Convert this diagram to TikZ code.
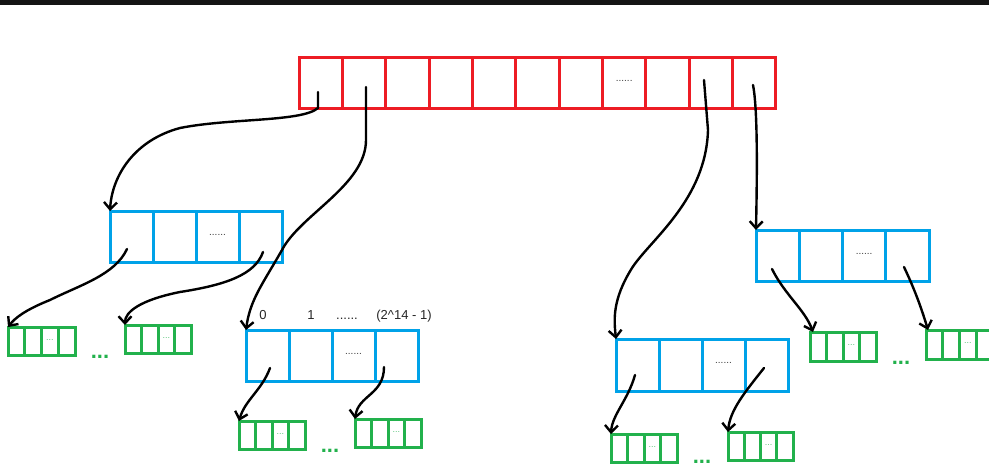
\documentclass[tikz,border=0pt]{standalone}
\usepackage{fontspec}
\setmainfont{Liberation Sans}
\usetikzlibrary{arrows.meta,calc}
\definecolor{pred}{RGB}{237,28,36}
\definecolor{pblue}{RGB}{0,162,232}
\definecolor{pgreen}{RGB}{34,177,76}
\definecolor{pdots}{RGB}{60,60,60}
\newcommand\mkarr[7]{%
  \foreach \i in {1,...,#6}{%
    \node[#7, minimum width=#4pt, minimum height=#5pt, anchor=north west] (#1-\i) at ({#2+(\i-1)*#4},#3) {};
  }}
\begin{document}
\begin{tikzpicture}[x=1pt,y=-1pt,
  redcell/.style={draw=pred, line width=3pt, inner sep=0pt, outer sep=0pt},
  bluecell/.style={draw=pblue, line width=3pt, inner sep=0pt, outer sep=0pt},
  greencell/.style={draw=pgreen, line width=3pt, inner sep=0pt, outer sep=0pt},
  celldots/.style={text=pdots, font=\fontsize{10}{10}\selectfont, inner sep=0pt},
  gdots/.style={text=pgreen!75, font=\fontsize{9}{9}\selectfont, inner sep=0pt},
  bigdots/.style={text=pgreen, font=\fontsize{22}{22}\selectfont\bfseries, inner sep=0pt, anchor=base},
  idx/.style={font=\fontsize{13}{13}\selectfont, text=black!85, inner sep=0pt, anchor=base},
  arr/.style={draw=black, line width=2.4pt, line cap=round, line join=round,
    -{Straight Barb[length=7pt,width=13pt]}}]
\useasboundingbox (0,0) rectangle (989,466);
\fill[black!92] (0,0) rectangle (989,4.5);
% arrays
\mkarr{r}{299}{57.5}{43.36}{51}{11}{redcell}
\mkarr{ba}{110}{211}{43}{51}{4}{bluecell}
\mkarr{bb}{246}{330}{43}{51}{4}{bluecell}
\mkarr{bc}{756}{230}{43.25}{51}{4}{bluecell}
\mkarr{bd}{616}{339}{43}{52}{4}{bluecell}
\mkarr{ga}{8}{327}{16.75}{28}{4}{greencell}
\mkarr{gb}{125}{325}{16.5}{28}{4}{greencell}
\mkarr{gc}{239}{421}{16.5}{28}{4}{greencell}
\mkarr{gd}{355}{419}{16.5}{28}{4}{greencell}
\mkarr{ge}{611}{434}{16.5}{28}{4}{greencell}
\mkarr{gf}{728}{432}{16.25}{28}{4}{greencell}
\mkarr{gg}{810}{332}{16.5}{29}{4}{greencell}
\mkarr{gh}{926}{330}{16.75}{29}{4}{greencell}
% dots inside cells
\node[celldots] (tr) at ($(r-8)+(0,-2)$) {......};
\node[celldots] (tba) at ($(ba-3)+(0,-2)$) {......};
\node[celldots] (tbb) at ($(bb-3)+(0,-2)$) {......};
\node[celldots] (tbc) at ($(bc-3)+(0,-2)$) {......};
\node[celldots] (tbd) at ($(bd-3)+(0,-2)$) {......};
\foreach \g in {ga,gb,gc,gd,ge,gf,gg,gh}{\node[gdots] (t\g) at ($(\g-3)+(0,-1)$) {...};}
% big dots between green arrays
\node[bigdots] (d1) at (100,358) {...};
\node[bigdots] (d2) at (330,452) {...};
\node[bigdots] (d3) at (702,463) {...};
\node[bigdots] (d4) at (901,364) {...};
% index labels
\node[idx] (l0) at (263,319) {0};
\node[idx] (l1) at (311,319) {1};
\node[idx] (l2) at (347,319) {......};
\node[idx] (l3) at (404,319) {(2\^{}14 - 1)};
% arrow starts
\coordinate (s1) at (318,92);
\coordinate (s2) at (366,87);
\coordinate (s3) at (704,80);
\coordinate (s4) at (753,85);
\coordinate (c5) at (127,249);
\coordinate (c6) at (263,252);
\coordinate (c7) at (270,368);
\coordinate (c8) at (384,367);
\coordinate (c9) at (635,375);
\coordinate (c10) at (764,368);
\coordinate (c11) at (772,269);
\coordinate (c12) at (904,267);
% arrows
\draw[arr] (s1) -- (318,108) .. controls (302,122) and (230,118) .. (180,128) .. controls (135,140) and (112,175) .. (ba-1.north west);
\draw[arr] (s2) -- (366,140) .. controls (366,185) and (300,215) .. (282,250) .. controls (262,285) and (250,300) .. (bb-1.north west);
\draw[arr] (s3) -- (708,130) .. controls (706,200) and (650,240) .. (632,268) .. controls (612,300) and (614,320) .. (bd-1.north west);
\draw[arr] (s4) .. controls (758,110) and (757,180) .. (bc-1.north west);
\draw[arr] (c5) .. controls (115,275) and (80,285) .. (50,300) .. controls (25,310) and (15,318) .. (ga-1.north west);
\draw[arr] (c6) .. controls (255,275) and (225,285) .. (180,292) .. controls (140,300) and (125,312) .. (gb-1.north west);
\draw[arr] (c7) .. controls (262,390) and (245,400) .. (gc-1.north west);
\draw[arr] (c8) .. controls (384,395) and (358,395) .. (gd-1.north west);
\draw[arr] (c9) .. controls (628,400) and (612,415) .. (ge-1.north west);
\draw[arr] (c10) .. controls (745,392) and (730,410) .. (gf-1.north west);
\draw[arr] (c11) .. controls (785,295) and (805,310) .. ($(gg-1.north west)+(3,0)$);
\draw[arr] (c12) .. controls (915,290) and (922,310) .. ($(gh-1.north west)+(2,0)$);
\end{tikzpicture}
\end{document}
